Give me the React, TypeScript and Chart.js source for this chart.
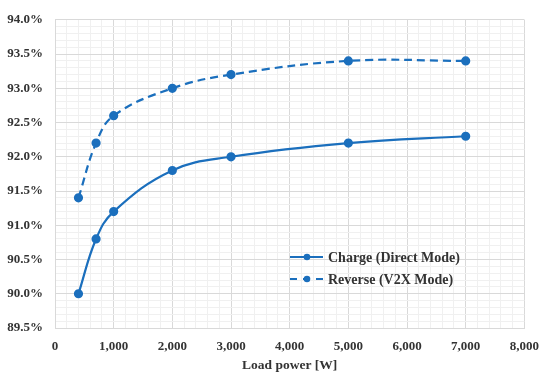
import { useEffect, useRef } from "react";
import { Chart, registerables } from "chart.js";

Chart.register(...registerables);

const loadPower = [400, 700, 1000, 2000, 3000, 5000, 7000];
const chargeEff = [90.0, 90.8, 91.2, 91.8, 92.0, 92.2, 92.3];
const reverseEff = [91.4, 92.2, 92.6, 93.0, 93.2, 93.4, 93.4];
const seriesNames = ["Charge (Direct Mode)", "Reverse (V2X Mode)"];
const xTitle = "Load power [W]";

const BLUE = "#1b6fbd";
const TEXT = "#333333";
const FONT = "'Liberation Serif', 'DejaVu Serif', serif";

const isMajorY = (v: number) => Math.abs(v * 2 - Math.round(v * 2)) < 1e-6;
const isMajorX = (v: number) => Math.abs(v / 1000 - Math.round(v / 1000)) < 1e-6;

const legendPlugin = {
  id: "insideLegend",
  afterDatasetsDraw(chart: any) {
    const { ctx, chartArea } = chart;
    const x0 = chartArea.left + 235;
    const rows = [chartArea.bottom - 71, chartArea.bottom - 49];
    ctx.save();
    rows.forEach((y: number, i: number) => {
      ctx.strokeStyle = BLUE;
      ctx.fillStyle = BLUE;
      ctx.lineWidth = 2.2;
      ctx.setLineDash(i === 0 ? [] : [7, 6]);
      ctx.beginPath();
      ctx.moveTo(x0, y);
      ctx.lineTo(x0 + 33, y);
      ctx.stroke();
      ctx.setLineDash([]);
      ctx.beginPath();
      ctx.arc(x0 + 17, y, 3.3, 0, Math.PI * 2);
      ctx.fill();
      ctx.fillStyle = TEXT;
      ctx.font = `bold 14px ${FONT}`;
      ctx.textBaseline = "middle";
      ctx.textAlign = "left";
      ctx.fillText(seriesNames[i], x0 + 38, y + 1);
    });
    ctx.restore();
  },
};

export default function App() {
  const ref = useRef<HTMLCanvasElement | null>(null);

  useEffect(() => {
    if (!ref.current) return;
    const chart = new Chart(ref.current, {
      type: "line",
      data: {
        datasets: [
          {
            label: seriesNames[0],
            data: loadPower.map((x, i) => ({ x, y: chargeEff[i] })),
            borderColor: BLUE,
            backgroundColor: BLUE,
            borderWidth: 2.2,
            pointRadius: 3.5,
            pointHoverRadius: 3.5,
            tension: 0.4,
            fill: false,
          },
          {
            label: seriesNames[1],
            data: loadPower.map((x, i) => ({ x, y: reverseEff[i] })),
            borderColor: BLUE,
            backgroundColor: BLUE,
            borderWidth: 2.2,
            borderDash: [8, 5],
            pointRadius: 3.5,
            pointHoverRadius: 3.5,
            tension: 0.4,
            fill: false,
          },
        ],
      },
      options: {
        animation: false,
        responsive: false,
        maintainAspectRatio: false,
        layout: { padding: { top: 14, right: 23, left: 0, bottom: 0 } },
        plugins: {
          legend: { display: false },
          tooltip: { enabled: false },
        },
        scales: {
          x: {
            type: "linear",
            min: 0,
            max: 8000,
            afterFit: (s: any) => {
              s.height = 52;
            },
            ticks: {
              stepSize: 200,
              autoSkip: false,
              maxRotation: 0,
              maxTicksLimit: 100,
              padding: 11,
              color: TEXT,
              font: { family: FONT, size: 13, weight: "bold" },
              callback: (v: any) => (isMajorX(Number(v)) ? Number(v).toLocaleString("en-US") : ""),
            },
            grid: {
              drawTicks: false,
              color: (c: any) => (isMajorX(c.tick.value) ? "#d9d9d9" : "#f0f0f0"),
              lineWidth: 1,
            },
            border: { color: "#d9d9d9" },
            title: {
              display: true,
              text: xTitle,
              color: TEXT,
              font: { family: FONT, size: 13.5, weight: "bold" },
              padding: { top: 4, bottom: 6 },
            },
          },
          y: {
            type: "linear",
            min: 89.5,
            max: 94.0,
            afterFit: (s: any) => {
              s.width = 55;
            },
            ticks: {
              stepSize: 0.1,
              autoSkip: false,
              maxTicksLimit: 100,
              padding: 12,
              color: TEXT,
              font: { family: FONT, size: 13, weight: "bold" },
              callback: (v: any) => (isMajorY(Number(v)) ? Number(v).toFixed(1) + "%" : ""),
            },
            grid: {
              drawTicks: false,
              color: (c: any) => (isMajorY(c.tick.value) ? "#d9d9d9" : "#f0f0f0"),
              lineWidth: 1,
            },
            border: { color: "#d9d9d9" },
          },
        },
      },
      plugins: [legendPlugin],
    });
    return () => chart.destroy();
  }, []);

  return (
    <div style={{ position: "absolute", left: 0, top: 0, width: 550, height: 380, background: "#fff" }}>
      <canvas ref={ref} width={550} height={380} style={{ width: 550, height: 380 }} />
    </div>
  );
}
